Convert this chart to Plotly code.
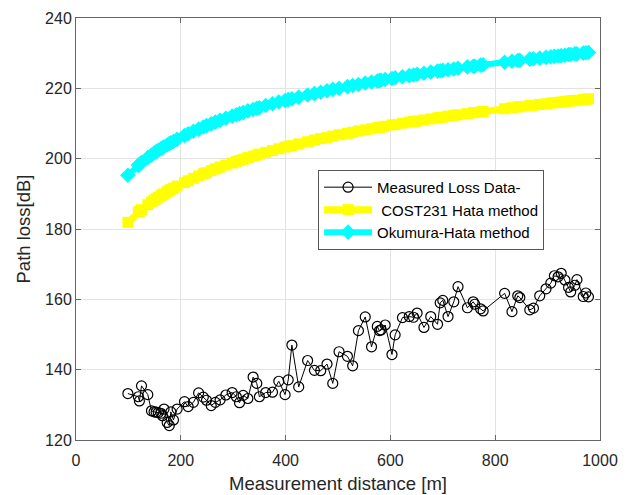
import plotly.graph_objects as go

distance = [99, 119, 121, 125, 137, 144, 149, 153, 157, 162, 165, 168, 174, 178, 181, 186, 193,
            207, 214, 224, 234, 243, 249, 258, 266, 275, 286, 298, 306, 312, 319, 328, 338, 345,
            350, 362, 375, 387, 399, 405, 412, 425, 442, 455, 467, 479, 490, 502, 518, 528, 539,
            552, 564, 575, 579, 582, 590, 603, 609, 623, 636, 644, 651, 664, 677, 690, 695, 700,
            710, 721, 729, 747, 758, 761, 772, 777, 818, 832, 843, 847, 866, 873, 885, 897, 906,
            913, 920, 926, 933, 940, 944, 952, 956, 968, 973, 978]

measured = [133.2, 132.3, 131.1, 135.4, 132.9, 128.3, 128.0, 127.9, 127.8, 127.6, 126.9, 128.8,
            125.0, 124.1, 128.0, 125.7, 128.8, 130.9, 129.5, 130.7, 133.4, 132.2, 131.3, 129.8,
            130.7, 131.4, 132.8, 133.5, 132.3, 130.6, 132.7, 131.8, 137.9, 136.1, 132.3, 133.5,
            133.6, 136.7, 132.9, 137.1, 147.0, 135.1, 142.6, 139.8, 139.7, 141.6, 136.1, 145.1,
            143.8, 141.1, 151.1, 155.0, 146.5, 152.3, 151.1, 151.3, 152.7, 144.3, 149.9, 154.8,
            155.1, 154.9, 156.1, 152.0, 155.1, 152.9, 159.0, 159.7, 155.1, 159.3, 163.6, 157.6,
            159.3, 158.6, 157.3, 156.7, 161.7, 156.5, 161.0, 160.5, 157.0, 157.5, 161.0, 163.0,
            164.6, 166.7, 166.4, 167.4, 165.5, 163.4, 162.1, 164.0, 165.6, 160.8, 161.8, 160.7]

cost231 = [181.9, 184.8, 185.0, 185.5, 186.9, 187.7, 188.2, 188.6, 189.0, 189.5, 189.8, 190.0,
           190.6, 190.9, 191.2, 191.6, 192.2, 193.2, 193.7, 194.4, 195.1, 195.7, 196.0, 196.6,
           197.1, 197.6, 198.2, 198.8, 199.2, 199.5, 199.8, 200.3, 200.7, 201.0, 201.3, 201.8,
           202.3, 202.8, 203.3, 203.5, 203.7, 204.2, 204.8, 205.3, 205.7, 206.0, 206.4, 206.8,
           207.2, 207.5, 207.9, 208.2, 208.5, 208.8, 208.9, 209.0, 209.2, 209.6, 209.7, 210.1,
           210.4, 210.6, 210.7, 211.0, 211.3, 211.6, 211.7, 211.8, 212.1, 212.3, 212.5, 212.8,
           213.1, 213.1, 213.3, 213.4, 214.2, 214.5, 214.7, 214.8, 215.1, 215.2, 215.4, 215.6,
           215.8, 215.9, 216.0, 216.1, 216.2, 216.4, 216.4, 216.5, 216.6, 216.8, 216.9, 217.0]

okumura = [195.3, 198.1, 198.4, 198.9, 200.3, 201.0, 201.6, 202.0, 202.4, 202.8, 203.1, 203.4,
           203.9, 204.3, 204.5, 204.9, 205.5, 206.6, 207.1, 207.8, 208.4, 209.0, 209.4, 209.9,
           210.4, 210.9, 211.5, 212.1, 212.5, 212.8, 213.1, 213.6, 214.0, 214.3, 214.5, 215.1,
           215.6, 216.1, 216.5, 216.8, 217.0, 217.5, 218.1, 218.5, 218.9, 219.3, 219.7, 220.0,
           220.5, 220.8, 221.1, 221.5, 221.8, 222.1, 222.2, 222.3, 222.5, 222.8, 223.0, 223.3,
           223.6, 223.8, 224.0, 224.3, 224.6, 224.9, 225.0, 225.1, 225.3, 225.5, 225.7, 226.1,
           226.3, 226.3, 226.6, 226.7, 227.4, 227.7, 227.9, 228.0, 228.3, 228.4, 228.6, 228.8,
           229.0, 229.1, 229.2, 229.3, 229.4, 229.6, 229.6, 229.8, 229.8, 230.0, 230.1, 230.2]

x_ticks = [0, 200, 400, 600, 800, 1000]
y_ticks = [120, 140, 160, 180, 200, 220, 240]

FONT = "Liberation Sans, Arial, sans-serif"

fig = go.Figure()
fig.add_trace(go.Scatter(
    x=distance, y=measured, mode="lines+markers", name="Measured Loss Data-",
    line=dict(color="black", width=1),
    marker=dict(symbol="circle-open", size=10, color="black", line=dict(width=1.2)),
))
fig.add_trace(go.Scatter(
    x=distance, y=cost231, mode="lines+markers", name=" COST231 Hata method",
    line=dict(color="#ffff00", width=7),
    marker=dict(symbol="square", size=11, color="#ffff00"),
))
fig.add_trace(go.Scatter(
    x=distance, y=okumura, mode="lines+markers", name="Okumura-Hata method",
    line=dict(color="#00ffff", width=6),
    marker=dict(symbol="diamond", size=12, color="#00ffff"),
))

axis_common = dict(
    showgrid=True, gridcolor="#e3e3e3", gridwidth=1,
    showline=True, linecolor="#666666", linewidth=1, mirror="ticks",
    ticks="inside", ticklen=5, tickcolor="#666666",
    tickfont=dict(family=FONT, size=16, color="#262626"),
    zeroline=False, automargin=False,
)

fig.update_layout(
    width=627, height=495,
    margin=dict(l=76, r=27, t=18, b=55),
    paper_bgcolor="white", plot_bgcolor="white",
    font=dict(family=FONT, color="#262626"),
    xaxis=dict(range=[0, 1000], tickvals=x_ticks, ticklabelstandoff=6,
               title=dict(text="Measurement distance [m]", font=dict(family=FONT, size=18.5), standoff=8),
               **axis_common),
    yaxis=dict(range=[120, 240], tickvals=y_ticks,
               title=dict(text="Path loss[dB]", font=dict(family=FONT, size=18.5), standoff=9),
               **axis_common),
    legend=dict(x=0.462, y=0.64, xanchor="left", yanchor="top",
                bgcolor="white", bordercolor="#555555", borderwidth=1,
                font=dict(family=FONT, size=15, color="black"),
                tracegroupgap=0, itemwidth=48),
    showlegend=True,
)

fig.write_html("out.html")
